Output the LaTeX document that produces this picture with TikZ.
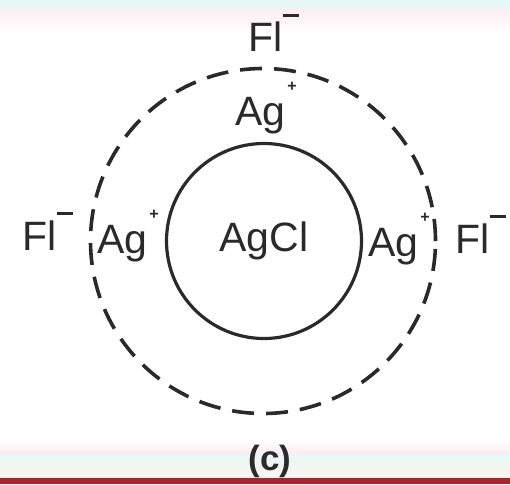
\documentclass[tikz,border=0pt]{standalone}
\usepackage{fontspec}
\setmainfont{Liberation Sans}
\usetikzlibrary{positioning}
\definecolor{bandcyan}{HTML}{E6F7F7}
\definecolor{bandpink}{HTML}{FCEDF1}
\definecolor{bandpeach}{HTML}{FDF3EC}
\definecolor{rulered}{HTML}{A82431}
\definecolor{inkgray}{HTML}{2A2A2A}
\newcommand{\chgplus}{\hspace{2pt}\raisebox{34pt}{\fontsize{16}{16}\selectfont\bfseries +}}
\newcommand{\chgminus}{\hspace{1pt}\raisebox{35pt}{\rule{16pt}{2.6pt}}}

\begin{document}
\begin{tikzpicture}[x=1pt,y=-1pt,
  ion/.style={inner sep=0pt,anchor=base west,text=inkgray,font=\fontsize{41}{48}\selectfont},
  core/.style={draw=inkgray,circle,line width=3.2pt,minimum size=195pt,inner sep=0pt,
    text=inkgray,font=\fontsize{41}{48}\selectfont},
  shell/.style={draw=inkgray,circle,line width=3.6pt,minimum size=345pt,
    dash pattern=on 22pt off 12pt},
  partlabel/.style={inner sep=0pt,anchor=base,text=inkgray,font=\fontsize{35}{40}\selectfont\bfseries}]

 \useasboundingbox (0,0) rectangle (510,484);

 % ---- bands ----
 \fill[bandcyan] (0,0) rectangle (510,9);
 \shade[top color=bandpink,bottom color=white] (0,9) rectangle (510,34);
 \shade[top color=white,bottom color=bandpink] (0,438) rectangle (510,453);
 \shade[top color=bandcyan,bottom color=bandpeach] (0,453) rectangle (510,478);
 \fill[rulered] (0,478) rectangle (510,484);

 % ---- particle ----
 \node[shell] (shell) at (263,241) {};
 \node[core] (agcl) at (264,241) {AgCl};

 % ---- adsorbed Ag+ ----
 \node[ion] (agtop) at (235,125) {Ag\chgplus};
 \node[ion] (agleft) at (97,253) {Ag\chgplus};
 \node[ion] (agright) at (368,256) {Ag\chgplus};

 % ---- counter ions ----
 \node[ion] (fltop) at (248,52) {Fl\chgminus};
 \node[ion] (flleft) at (22,250) {Fl\chgminus};
 \node[ion] (flright) at (455,253) {Fl\chgminus};

 \node[partlabel] (label) at (270,470) {(c)};
\end{tikzpicture}
\end{document}
